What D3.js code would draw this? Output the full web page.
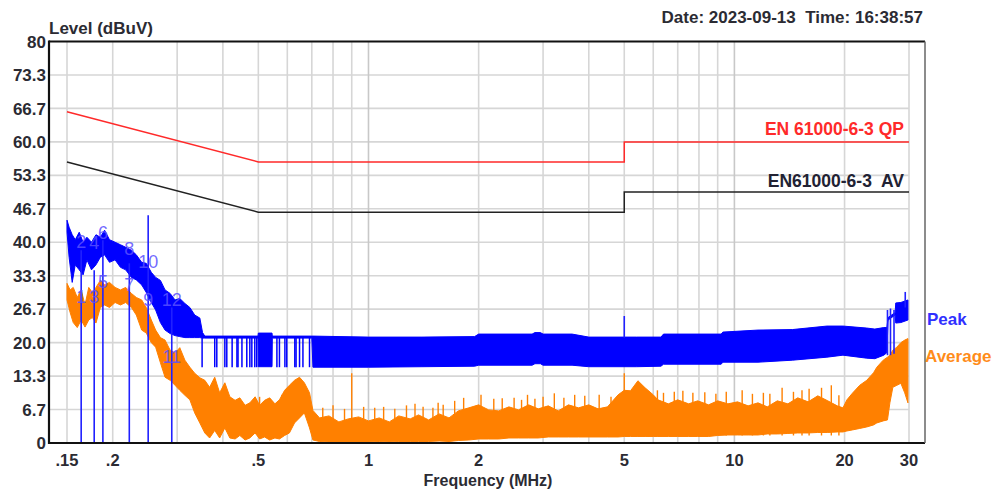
<!DOCTYPE html>
<html>
<head>
<meta charset="utf-8">
<script src="https://cdn.jsdelivr.net/npm/d3@7"></script>
<style>
  body { margin: 0; background: #fff; }
  svg { display: block; font-family: "Liberation Sans", Arial, sans-serif; }
</style>
</head>
<body>
<div id="chart"></div>
<script>
const yTicks = [0, 6.667, 13.333, 20, 26.667, 33.333, 40, 46.667, 53.333, 60, 66.667, 73.333, 80];
const yTickLabels = ['0', '6.7', '13.3', '20.0', '26.7', '33.3', '40.0', '46.7', '53.3', '60.0', '66.7', '73.3', '80'];
const xTicks = [0.15, 0.2, 0.5, 1, 2, 5, 10, 20, 30];
const xTickLabels = ['.15', '.2', '.5', '1', '2', '5', '10', '20', '30'];
const xGrid = [0.15, 0.2, 0.3, 0.4, 0.5, 0.6, 0.7, 0.8, 0.9, 1, 2, 3, 4, 5, 6, 7, 8, 9, 10, 20, 30];

// limit lines
const qpFreq = [0.15, 0.5, 5, 5, 30];
const qpLevel = [66, 56, 56, 60, 60];
const avFreq = [0.15, 0.5, 5, 5, 30];
const avLevel = [56, 46, 46, 50, 50];

// peak trace, read as upper / lower envelope
const peakFreq = [0.150, 0.152, 0.155, 0.158, 0.162, 0.166, 0.170, 0.175, 0.180, 0.185, 0.190, 0.196, 0.203, 0.210,
  0.217, 0.225, 0.232, 0.240, 0.247, 0.255, 0.262, 0.270, 0.278, 0.287, 0.296, 0.305, 0.315, 0.325, 0.335, 0.346,
  0.352, 0.357, 0.499, 0.500, 0.545, 0.546, 0.700, 0.705, 1.00, 1.40, 1.95, 2.00, 2.80, 2.85, 2.95, 3.00, 3.60, 4.00,
  5.40, 6.30, 6.40, 9.20, 9.30, 11.6, 14.4, 17.9, 19.8, 23.0, 24.2, 25.6, 26.1, 26.3, 27.5, 27.6, 28.5, 29.8];
const peakHigh = [44.4, 43.0, 41.5, 40.5, 42.0, 40.0, 41.0, 40.0, 41.5, 41.0, 42.4, 40.5, 40.0, 39.5,
  39.0, 38.4, 37.5, 36.0, 35.8, 34.0, 33.0, 32.4, 30.5, 29.8, 28.5, 28.8, 27.8, 27.0, 25.5, 24.9,
  22.0, 21.3, 21.3, 21.9, 21.9, 21.3, 21.3, 21.3, 21.1, 21.1, 21.2, 21.7, 21.7, 22.0, 22.0, 21.7, 21.7, 21.1,
  21.1, 21.1, 21.7, 21.7, 22.1, 22.5, 22.6, 23.3, 23.3, 22.9, 22.7, 23.0, 23.0, 25.0, 26.0, 27.9, 28.0, 28.5];
const peakLow = [42.0, 37.0, 32.0, 35.5, 34.5, 33.5, 36.5, 34.5, 35.5, 37.0, 37.5, 36.0, 36.5, 35.0,
  34.5, 33.0, 32.5, 31.5, 30.0, 28.0, 26.5, 24.0, 22.5, 21.8, 21.4, 21.2, 21.0, 21.0, 21.0, 21.0,
  20.9, 20.9, 20.9, 15.2, 15.2, 20.9, 20.9, 15.1, 15.1, 15.2, 15.3, 15.5, 15.5, 15.8, 15.8, 15.5, 15.5, 15.2,
  15.2, 15.3, 15.7, 15.7, 16.1, 16.1, 16.5, 17.1, 17.5, 16.9, 16.8, 17.5, 18.0, 24.5, 25.5, 23.9, 24.0, 24.5];
// single drops of the peak trace between .35 and .7 MHz
const peakDropFreq = [0.351, 0.380, 0.385, 0.405, 0.410, 0.424, 0.437, 0.440, 0.451, 0.465, 0.474, 0.480, 0.489,
  0.495, 0.562, 0.571, 0.591, 0.598, 0.629, 0.634, 0.648, 0.662, 0.690];
const peakSpikeFreq = [0.164, 0.178, 0.188, 0.222, 0.250, 0.290, 5.0, 26.2, 26.7, 27.3, 29.3];
const peakSpikeLow = [0, 0, 0, 0, 0, 0, 21, 17.5, 17.5, 17.8, 27];
const peakSpikeHigh = [38.4, 34.4, 40.4, 35.8, 45.4, 27.0, 25.3, 26.5, 26.8, 26.5, 30.1];

// average trace
const avgFreq = [0.150, 0.153, 0.156, 0.160, 0.164, 0.168, 0.172, 0.176, 0.180, 0.185, 0.190, 0.196, 0.203, 0.210,
  0.217, 0.225, 0.232, 0.240, 0.247, 0.255, 0.262, 0.270, 0.278, 0.287, 0.296, 0.305, 0.315, 0.325, 0.335, 0.346,
  0.357, 0.368, 0.380, 0.392, 0.405, 0.418, 0.432, 0.445, 0.460, 0.474, 0.490, 0.504, 0.520, 0.537, 0.555, 0.571,
  0.590, 0.608, 0.628, 0.648, 0.668, 0.690, 0.705, 0.735, 0.78, 0.83, 0.88, 0.94, 1.00, 1.07, 1.14, 1.21, 1.30,
  1.37, 1.46, 1.56, 1.66, 1.76, 1.88, 2.00, 2.13, 2.27, 2.42, 2.57, 2.74, 2.91, 3.10, 3.30, 3.52, 3.75, 4.00,
  4.24, 4.50, 4.81, 5.00, 5.20, 5.45, 5.70, 6.00, 6.18, 6.60, 7.00, 7.50, 7.94, 8.50, 9.00, 9.60, 10.2, 10.9,
  11.6, 12.3, 13.1, 14.0, 14.9, 15.9, 16.9, 18.0, 19.1, 19.8, 20.3, 21.0, 22.0, 23.0, 24.0, 24.5, 25.5, 26.2,
  26.6, 27.1, 27.8, 28.5, 29.2, 29.8];
const avgHigh = [31.8, 30.5, 31.0, 29.0, 30.5, 27.5, 31.0, 30.0, 31.0, 32.4, 31.5, 32.0, 31.0, 30.5,
  31.0, 29.8, 29.0, 28.5, 27.0, 24.5, 22.5, 21.0, 20.5, 18.5, 17.9, 19.0, 16.5, 15.1, 13.9, 13.0,
  12.5, 11.1, 13.1, 10.0, 12.0, 9.2, 8.5, 9.0, 7.5, 8.0, 9.2, 7.5, 8.5, 9.0, 7.8, 8.6,
  10.5, 11.5, 12.5, 13.1, 12.0, 10.0, 6.5, 5.0, 5.4, 4.2, 4.8, 5.2, 4.4, 5.0, 4.2, 5.4, 4.8,
  5.6, 4.6, 5.8, 5.0, 6.4, 7.0, 7.6, 6.6, 6.4, 7.2, 6.6, 7.6, 6.8, 7.4, 6.4, 7.6, 7.0, 7.6,
  6.8, 7.2, 9.6, 10.5, 10.4, 12.4, 11.0, 9.6, 8.6, 7.8, 8.6, 7.8, 8.4, 7.6, 8.4, 7.8, 8.2, 7.4,
  8.0, 7.2, 8.4, 7.8, 9.0, 8.2, 9.4, 8.4, 7.4, 7.0, 8.6, 9.9, 11.5, 12.5, 14.0, 15.1, 16.5, 17.1,
  17.5, 18.5, 19.1, 20.0, 20.5, 20.8];
const avgLow = [28.5, 26.0, 24.0, 23.0, 24.5, 23.1, 24.5, 25.0, 23.9, 27.0, 27.5, 27.0, 28.0, 27.5,
  28.0, 27.0, 25.5, 22.5, 21.9, 20.0, 19.1, 16.0, 13.1, 12.5, 11.5, 10.5, 9.5, 8.6, 6.0, 4.0,
  2.0, 1.0, 2.5, 1.0, 3.0, 1.0, 0.8, 1.5, 0.6, 1.0, 2.0, 0.8, 1.2, 0.6, 1.0, 0.8,
  1.5, 2.0, 4.0, 5.0, 6.0, 3.0, 0.6, 0.3, 0.2, 0.2, 0.2, 0.2, 0.2, 0.3, 0.2, 0.3, 0.3,
  0.3, 0.3, 0.4, 0.3, 0.5, 0.6, 0.8, 0.8, 0.8, 1.0, 1.0, 1.0, 1.0, 1.2, 1.2, 1.2, 1.2, 1.2,
  1.2, 1.2, 1.2, 1.3, 1.3, 1.3, 1.3, 1.3, 1.3, 1.3, 1.3, 1.3, 1.3, 1.3, 1.5, 1.6, 1.6, 1.6,
  1.6, 1.8, 1.8, 1.9, 2.0, 2.0, 2.1, 2.1, 2.2, 2.2, 2.4, 2.6, 2.9, 3.2, 3.6, 4.0, 4.4, 4.6,
  8.0, 11.1, 11.5, 11.9, 10.0, 8.0];
// thin spikes standing out of the average trace
const avgSpikeFreq = [0.504, 0.58, 0.75, 0.80, 0.86, 0.90, 0.97, 1.04, 1.10, 1.18, 1.27, 1.34, 1.41, 1.50, 1.55,
  1.60, 1.72, 1.82, 2.03, 2.20, 2.32, 2.50, 2.62, 2.72, 2.85, 3.00, 3.22, 3.42, 3.66, 3.90, 4.27, 4.60, 5.0,
  6.16, 6.40, 6.85, 7.23, 7.70, 8.3, 8.9, 9.5, 10.5, 11.2, 12.0, 12.5, 13.5, 14.5, 15.3, 16.0, 17.3, 18.4, 19.3];
const avgSpikeHigh = [9.2, 9.6, 7.0, 7.5, 6.8, 13.9, 7.2, 7.0, 7.2, 6.8, 7.5, 7.8, 7.2, 7.0, 8.0,
  7.6, 8.4, 9.0, 9.6, 8.8, 8.9, 9.0, 8.6, 9.6, 8.8, 9.2, 9.9, 9.0, 9.6, 9.4, 9.6, 9.2, 13.9,
  10.5, 10.0, 10.2, 10.4, 10.0, 10.1, 9.8, 10.2, 10.5, 9.8, 10.0, 9.8, 11.0, 10.2, 10.5, 10.8, 11.0, 11.5, 9.5];

// markers
const markerLabels = ['1', '2', '3', '4', '5', '6', '7', '8', '9', '10', '11', '12'];
const markerFreq = [0.164, 0.164, 0.178, 0.178, 0.188, 0.188, 0.222, 0.222, 0.250, 0.250, 0.290, 0.290];
const markerLevel = [29.1, 40.0, 29.1, 39.8, 32.0, 41.8, 31.4, 38.6, 28.5, 36.0, 17.1, 28.5];

const svg = d3
  .select('#chart')
  .append('svg')
  .attr('width', 1001)
  .attr('height', 493);

const x = d3.scaleLog().domain([0.15, 30]).range([67, 909]);
const y = d3.scaleLinear().domain([0, 80]).range([443, 41.5]);
const frameLeft = 49;
const frameRight = 925;

// grid
yTicks.slice(1, -1).forEach(function (v) {
  svg.append('line')
    .attr('x1', frameLeft).attr('x2', x(30))
    .attr('y1', y(v)).attr('y2', y(v))
    .attr('stroke', '#d6d6d6')
    .attr('stroke-width', 1.6);
});
xGrid.forEach(function (f) {
  svg.append('line')
    .attr('x1', x(f)).attr('x2', x(f))
    .attr('y1', y(80)).attr('y2', y(0))
    .attr('stroke', [1, 10].includes(f) ? '#c8c8c8' : '#d6d6d6')
    .attr('stroke-width', 1.6);
});

// limits
const limitLine = d3.line().x(d => x(d[0])).y(d => y(d[1]));
svg.append('path')
  .attr('d', limitLine(d3.zip(qpFreq, qpLevel)))
  .attr('fill', 'none')
  .attr('stroke', '#ff2a2a')
  .attr('stroke-width', 1.5);
svg.append('path')
  .attr('d', limitLine(d3.zip(avFreq, avLevel)))
  .attr('fill', 'none')
  .attr('stroke', '#222')
  .attr('stroke-width', 1.5);

// peak
const band = d3.area().x(d => x(d[0])).y0(d => y(d[1])).y1(d => y(d[2]));
svg.append('path')
  .attr('d', band(d3.zip(peakFreq, peakLow, peakHigh)))
  .attr('fill', '#0000ff')
  .attr('stroke', '#0000ff')
  .attr('stroke-width', 1);
peakDropFreq.forEach(function (f) {
  svg.append('line')
    .attr('x1', x(f)).attr('x2', x(f))
    .attr('y1', y(21.2)).attr('y2', y(15.1))
    .attr('stroke', '#0000ff')
    .attr('stroke-width', 1.5);
});

// average
svg.append('path')
  .attr('d', band(d3.zip(avgFreq, avgLow, avgHigh)))
  .attr('fill', '#ff8000')
  .attr('stroke', '#ff8000')
  .attr('stroke-width', 1);
avgSpikeFreq.forEach(function (f, i) {
  svg.append('line')
    .attr('x1', x(f)).attr('x2', x(f))
    .attr('y1', y(1.5)).attr('y2', y(avgSpikeHigh[i]))
    .attr('stroke', '#ff8000')
    .attr('stroke-width', 1.4);
});

peakSpikeFreq.forEach(function (f, i) {
  svg.append('line')
    .attr('x1', x(f)).attr('x2', x(f))
    .attr('y1', y(peakSpikeLow[i])).attr('y2', y(peakSpikeHigh[i]))
    .attr('stroke', '#2020ff')
    .attr('stroke-width', 1.6);
});

markerLabels.forEach(function (label, i) {
  svg.append('text')
    .attr('x', x(markerFreq[i]))
    .attr('y', y(markerLevel[i]))
    .attr('text-anchor', 'middle')
    .attr('dominant-baseline', 'central')
    .attr('font-size', '18px')
    .attr('fill', '#5a50ff')
    .attr('fill-opacity', 0.85)
    .text(label);
});

// frame
svg.append('line').attr('x1', frameLeft).attr('x2', frameRight).attr('y1', y(80)).attr('y2', y(80))
  .attr('stroke', '#111').attr('stroke-width', 2);
svg.append('line').attr('x1', frameLeft).attr('x2', frameRight).attr('y1', y(0)).attr('y2', y(0))
  .attr('stroke', '#111').attr('stroke-width', 2.2);
svg.append('line').attr('x1', frameLeft).attr('x2', frameLeft).attr('y1', y(80) - 1).attr('y2', y(0) + 1)
  .attr('stroke', '#111').attr('stroke-width', 2.2);
svg.append('line').attr('x1', frameRight).attr('x2', frameRight).attr('y1', y(80)).attr('y2', y(0))
  .attr('stroke', '#666').attr('stroke-width', 1.5);

// axis labels
yTicks.forEach(function (v, i) {
  svg.append('text')
    .attr('x', 46)
    .attr('y', y(v))
    .attr('dy', '0.36em')
    .attr('text-anchor', 'end')
    .attr('font-size', '17px')
    .attr('font-weight', 'bold')
    .attr('fill', '#2b2b33')
    .text(yTickLabels[i]);
});
xTicks.forEach(function (f, i) {
  svg.append('text')
    .attr('x', x(f))
    .attr('y', 466)
    .attr('text-anchor', 'middle')
    .attr('font-size', '16.5px')
    .attr('font-weight', 'bold')
    .attr('fill', '#2b2b33')
    .text(xTickLabels[i]);
});

svg.append('text')
  .attr('x', (x(0.15) + x(30)) / 2)
  .attr('y', 486)
  .attr('text-anchor', 'middle')
  .attr('font-size', '16px')
  .attr('font-weight', 'bold')
  .attr('fill', '#2b2b33')
  .text('Frequency (MHz)');

svg.append('text')
  .attr('x', frameLeft)
  .attr('y', 34)
  .attr('font-size', '17px')
  .attr('font-weight', 'bold')
  .attr('fill', '#2b2b33')
  .text('Level (dBuV)');

svg.append('text')
  .attr('x', 923)
  .attr('y', 23)
  .attr('text-anchor', 'end')
  .attr('font-size', '17px')
  .attr('font-weight', 'bold')
  .attr('fill', '#2b2b33')
  .style('white-space', 'pre')
  .text('Date: 2023-09-13  Time: 16:38:57');

svg.append('text')
  .attr('x', 904)
  .attr('y', 135)
  .attr('text-anchor', 'end')
  .attr('font-size', '17.5px')
  .attr('font-weight', 'bold')
  .attr('fill', '#ff2a2a')
  .text('EN 61000-6-3 QP');

svg.append('text')
  .attr('x', 904)
  .attr('y', 187)
  .attr('text-anchor', 'end')
  .attr('font-size', '17.5px')
  .attr('font-weight', 'bold')
  .attr('fill', '#222233')
  .style('white-space', 'pre')
  .text('EN61000-6-3  AV');

svg.append('text')
  .attr('x', 927)
  .attr('y', 325)
  .attr('font-size', '17px')
  .attr('font-weight', 'bold')
  .attr('fill', '#3030ff')
  .text('Peak');

svg.append('text')
  .attr('x', 925)
  .attr('y', 362)
  .attr('font-size', '17px')
  .attr('font-weight', 'bold')
  .attr('fill', '#ff8c1a')
  .text('Average');
</script>
</body>
</html>
